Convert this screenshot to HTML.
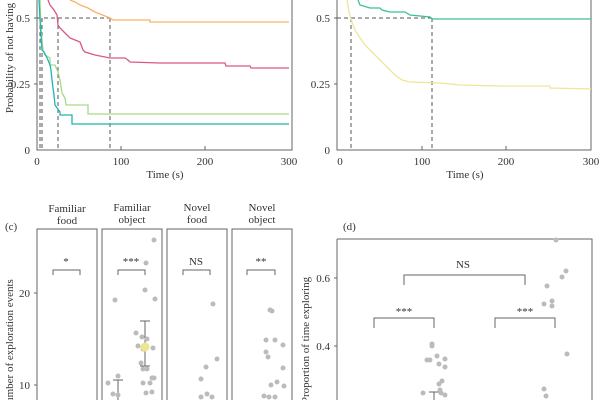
<!DOCTYPE html>
<html><head><meta charset="utf-8"><style>body{margin:0;background:#fff}svg{display:block;font-family:"Liberation Serif",serif;fill:#333}</style></head><body>
<svg width="600" height="400" viewBox="0 0 600 400" xmlns="http://www.w3.org/2000/svg">
<g fill="none" stroke-width="1">
<path d="M37 0V150H292V0" stroke="#666"/>
<path d="M34 18H37M34 84H37M121 150V146M205 150V146" stroke="#666"/>
<g stroke="#555" stroke-dasharray="4,3">
<path d="M37 18H110M40 18V150M42 18V150M58 18V150M110 18V150"/>
</g>
<polyline stroke="#f6b36b" stroke-width="1.3" points="70,0 75,2 80,5 88,8 95,12 100,14 105,16 110,18 113,20 150,20 150,22 289,22"/>
<polyline stroke="#d9578a" stroke-width="1.3" points="48,0 50,5 54,10 57,15 58,25 60,28 62,30 66,34 70,38 75,40 80,42 83,50 85,52 95,55 110,58 125,58 128,60 130,62 160,63 225,63 226,66 250,66 251,68 289,68"/>
<polyline stroke="#a6d98a" stroke-width="1.3" points="40,0 41,30 43,50 45,55 50,58 50,65 55,65 58,72 60,80 62,93 65,98 66,105 88,105 88,114 289,114"/>
<polyline stroke="#1fb5b0" stroke-width="1.3" points="39,0 40,20 42,50 44,52 48,60 50,65 51,70 52,80 53,88 54,95 55,105 60,112 60,115 72,115 72,124 289,124"/>
<path d="M337 0V150H591V0" stroke="#666"/>
<path d="M334 18H337M334 84H337M422 150V146M506 150V146" stroke="#666"/>
<g stroke="#555" stroke-dasharray="4,3"><path d="M337 18H432M351 18V150M432 18V150"/></g>
<polyline stroke="#3dbf95" stroke-width="1.3" points="358,0 360,5 370,8 380,8 382,10 390,12 405,12 410,15 430,17 432,19 591,19"/>
<polyline stroke="#ede69a" stroke-width="1.3" points="347,0 349,12 352,22 355,30 360,38 365,45 372,52 380,60 388,68 395,75 402,80 410,82 440,83 460,85 500,86 550,86 550,88 591,89"/>
<g stroke="#666"><rect x="37" y="229" width="60" height="190"/><rect x="102" y="229" width="60" height="190"/><rect x="167" y="229" width="60" height="190"/><rect x="232" y="229" width="60" height="190"/>
<path d="M34 293H37M34 385H37"/>
<path d="M53 275V270H80V275M118 275V270H145V275M183 275V270H210V275M247 275V270H275V275"/>
<path d="M145 321V366M140 321H150M140 366H150M118 380V400M113 380H123"/>
</g>
<path d="M337 239H592V400M337 239V400M334 278H337M334 346H337" stroke="#666"/>
<path d="M404 285V275H525V285M374 328V318H434V328M495 328V318H555V328M434 392V400M429 392H439" stroke="#666"/>
</g>
<g fill="#bbb">
<circle cx="115" cy="300" r="2.5"/><circle cx="154" cy="240" r="2.5"/><circle cx="146" cy="263" r="2.5"/><circle cx="145" cy="290" r="2.5"/><circle cx="155" cy="299" r="2.5"/><circle cx="136" cy="333" r="2.5"/><circle cx="142" cy="337" r="2.5"/><circle cx="147" cy="339" r="2.5"/><circle cx="138" cy="346" r="2.5"/><circle cx="143" cy="349" r="2.5"/><circle cx="153" cy="348" r="2.5"/><circle cx="141" cy="363" r="2.5"/><circle cx="143" cy="369" r="2.5"/><circle cx="147" cy="369" r="2.5"/><circle cx="152" cy="378" r="2.5"/><circle cx="154" cy="378" r="2.5"/><circle cx="118" cy="376" r="2.5"/><circle cx="108" cy="383" r="2.5"/><circle cx="143" cy="383" r="2.5"/><circle cx="150" cy="383" r="2.5"/><circle cx="146" cy="393" r="2.5"/><circle cx="152" cy="392" r="2.5"/><circle cx="113" cy="394" r="2.5"/><circle cx="118" cy="395" r="2.5"/>
<circle cx="213" cy="304" r="2.5"/><circle cx="217" cy="359" r="2.5"/><circle cx="206" cy="367" r="2.5"/><circle cx="201" cy="379" r="2.5"/><circle cx="207" cy="394" r="2.5"/><circle cx="212" cy="397" r="2.5"/><circle cx="201" cy="397" r="2.5"/>
<circle cx="270" cy="310" r="2.5"/><circle cx="272" cy="311" r="2.5"/><circle cx="275" cy="340" r="2.5"/><circle cx="266" cy="340" r="2.5"/><circle cx="283" cy="345" r="2.5"/><circle cx="266" cy="352" r="2.5"/><circle cx="268" cy="357" r="2.5"/><circle cx="283" cy="368" r="2.5"/><circle cx="277" cy="382" r="2.5"/><circle cx="271" cy="385" r="2.5"/><circle cx="284" cy="386" r="2.5"/><circle cx="264" cy="396" r="2.5"/><circle cx="269" cy="397" r="2.5"/><circle cx="275" cy="397" r="2.5"/>
<circle cx="556" cy="240" r="2.5"/><circle cx="566" cy="271" r="2.5"/><circle cx="562" cy="277" r="2.5"/><circle cx="547" cy="286" r="2.5"/><circle cx="552" cy="301" r="2.5"/><circle cx="552" cy="306" r="2.5"/><circle cx="544" cy="304" r="2.5"/><circle cx="567" cy="354" r="2.5"/><circle cx="544" cy="389" r="2.5"/><circle cx="546" cy="396" r="2.5"/>
<circle cx="432" cy="344" r="2.5"/><circle cx="432" cy="346" r="2.5"/><circle cx="427" cy="360" r="2.5"/><circle cx="430" cy="360" r="2.5"/><circle cx="437" cy="356" r="2.5"/><circle cx="445" cy="359" r="2.5"/><circle cx="439" cy="364" r="2.5"/><circle cx="445" cy="367" r="2.5"/><circle cx="442" cy="381" r="2.5"/><circle cx="439" cy="384" r="2.5"/><circle cx="440" cy="390" r="2.5"/><circle cx="423" cy="393" r="2.5"/><circle cx="441" cy="393" r="2.5"/><circle cx="445" cy="395" r="2.5"/>
</g>
<circle cx="145" cy="347" r="4.5" fill="#ece68f"/>
<g font-size="11">
<text x="30" y="22" text-anchor="end">0.5</text><text x="30" y="88" text-anchor="end">0.25</text><text x="30" y="154" text-anchor="end">0</text>
<text x="37" y="165" text-anchor="middle">0</text><text x="121" y="165" text-anchor="middle">100</text><text x="205" y="165" text-anchor="middle">200</text><text x="289" y="165" text-anchor="middle">300</text>
<text x="165" y="178" text-anchor="middle">Time (s)</text>
<text transform="translate(13,58) rotate(-90)" text-anchor="middle">Probability of not having</text>
<text x="330" y="22" text-anchor="end">0.5</text><text x="330" y="88" text-anchor="end">0.25</text><text x="330" y="154" text-anchor="end">0</text>
<text x="340" y="165" text-anchor="middle">0</text><text x="422" y="165" text-anchor="middle">100</text><text x="506" y="165" text-anchor="middle">200</text><text x="591" y="165" text-anchor="middle">300</text>
<text x="465" y="178" text-anchor="middle">Time (s)</text>
<text x="67" y="212" text-anchor="middle">Familiar</text><text x="67" y="224" text-anchor="middle">food</text>
<text x="132" y="211" text-anchor="middle">Familiar</text><text x="132" y="223" text-anchor="middle">object</text>
<text x="197" y="211" text-anchor="middle">Novel</text><text x="197" y="223" text-anchor="middle">food</text>
<text x="262" y="211" text-anchor="middle">Novel</text><text x="262" y="223" text-anchor="middle">object</text>
<text x="5" y="230">(c)</text><text x="343" y="230">(d)</text>
<text x="30" y="297" text-anchor="end">20</text><text x="30" y="389" text-anchor="end">10</text>
<text transform="translate(13,345) rotate(-90)" text-anchor="middle">Number of exploration events</text>
<text x="66" y="265" text-anchor="middle">*</text><text x="131" y="265" text-anchor="middle">***</text><text x="196" y="265" text-anchor="middle">NS</text><text x="261" y="265" text-anchor="middle">**</text>
<text x="330" y="282" text-anchor="end">0.6</text><text x="330" y="350" text-anchor="end">0.4</text>
<text transform="translate(309,340) rotate(-90)" text-anchor="middle">Proportion of time exploring</text>
<text x="463" y="268" text-anchor="middle">NS</text><text x="404" y="315" text-anchor="middle">***</text><text x="525" y="315" text-anchor="middle">***</text>
</g>
</svg>
</body></html>
